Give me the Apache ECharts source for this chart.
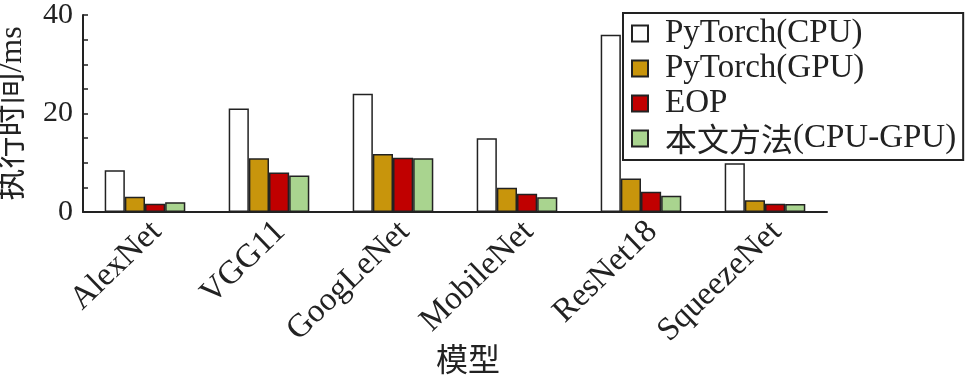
<!DOCTYPE html>
<html><head><meta charset="utf-8">
<script src="https://cdn.jsdelivr.net/npm/echarts@6/dist/echarts.min.js"></script>
<style>html,body{margin:0;padding:0;background:#fff}#c{width:967px;height:380px}</style>
</head><body><div id="c"></div>
<script>
const categories = ['AlexNet','VGG11','GoogLeNet','MobileNet','ResNet18','SqueezeNet'];
const seriesNames = ['PyTorch(CPU)','PyTorch(GPU)','EOP','本文方法(CPU-GPU)'];
const cpu = [8.5, 21.0, 24.0, 15.0, 36.0, 9.9];
const gpu = [3.1, 10.9, 11.8, 4.9, 6.8, 2.4];
const eop = [1.7, 8.0, 11.0, 3.7, 4.1, 1.7];
const ours = [2.0, 7.4, 10.9, 3.0, 3.3, 1.6];
const yTicks = [0, 20, 40];
const colors = ['#ffffff', '#c8950c', '#c00000', '#a9d48f'];
const serif = '"Liberation Serif", "Noto Sans CJK SC", serif';
const cjk = '"Noto Sans CJK SC", serif';
const txt = '#222';
const data = [cpu, gpu, eop, ours];
const chart = echarts.init(document.getElementById('c'));
chart.setOption({
  animation: false,
  backgroundColor: '#fff',
  grid: {left: 83, right: 140, top: 15, bottom: 168, containLabel: false, outerBoundsMode: 'none'},
  legend: {
    orient: 'vertical', left: 623, top: 13,
    padding: [4, 7, 5, 8],
    borderColor: txt, borderWidth: 2,
    itemWidth: 16, itemHeight: 16, itemGap: 2,
    icon: 'rect',
    formatter: n => n.replace(/^([\u4e00-\u9fff]+)/, '{c|$1}'),
    textStyle: {fontFamily: serif, fontSize: 33, color: txt, padding: [0, 0, 0, 12],
      rich: {c: {fontFamily: cjk, fontSize: 32, color: txt}}},
    data: seriesNames
  },
  xAxis: {
    type: 'category', data: categories,
    name: '模型', nameLocation: 'middle', nameGap: 131, nameMoveOverlap: false,
    nameTextStyle: {fontFamily: cjk, fontSize: 32, color: txt, padding: [0, 0, 0, 26]},
    axisLine: {lineStyle: {color: txt, width: 2}},
    axisTick: {inside: true, length: 4, interval: 0, lineStyle: {color: txt, width: 1.5}},
    axisLabel: {rotate: 44, margin: 3, verticalAlign: 'top', interval: 0, fontFamily: serif, fontSize: 33, color: txt}
  },
  yAxis: {
    type: 'value', min: 0, max: 40, interval: 20,
    name: '执行时间/ms', nameLocation: 'middle', nameGap: 54, nameMoveOverlap: false,
    nameTextStyle: {fontFamily: serif, fontSize: 32, color: txt},
    axisLine: {show: true, lineStyle: {color: txt, width: 2}},
    axisTick: {show: true, inside: true, length: 5, lineStyle: {color: txt, width: 1.5}},
    minorTick: {show: true, splitNumber: 4, length: 5, lineStyle: {color: txt, width: 1.5}},
    splitLine: {show: false},
    axisLabel: {fontFamily: serif, fontSize: 30, color: txt, margin: 10,
      formatter: v => yTicks.includes(v) ? String(v) : ''}
  },
  series: seriesNames.map((n, i) => ({
    name: n, type: 'bar', data: data[i],
    barGap: '0%', barCategoryGap: '35%',
    itemStyle: {color: colors[i], borderColor: txt, borderWidth: 1.5}
  }))
});
</script></body></html>
